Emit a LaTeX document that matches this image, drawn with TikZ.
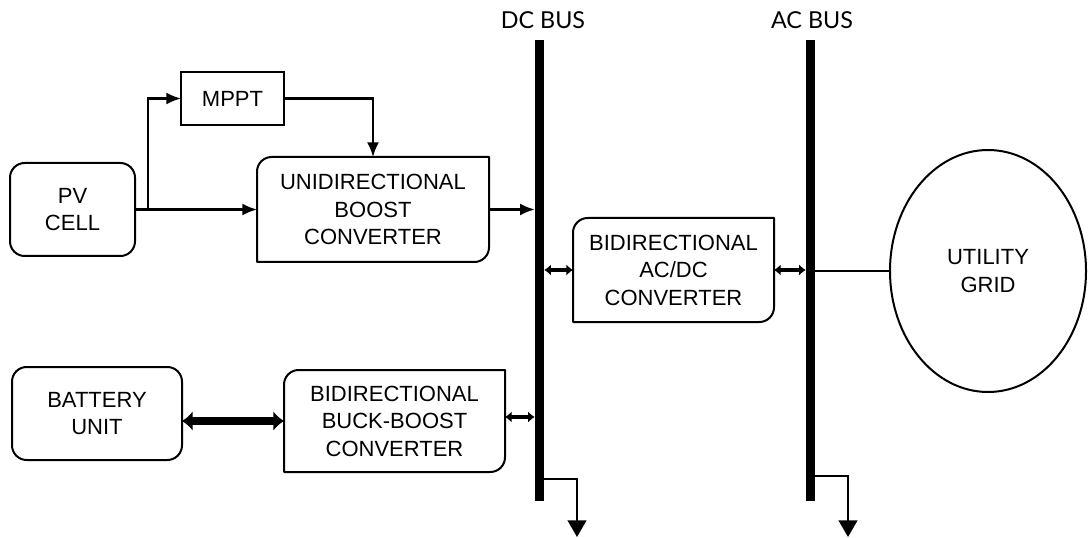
\documentclass[tikz,border=0pt]{standalone}
\usepackage{fontspec}
\setmainfont{Liberation Sans}
\newfontfamily\latofont{Lato}
\usetikzlibrary{arrows.meta,shapes.geometric,calc}
\newcommand\halfroundbox[1]{\draw[boxline] (#1.south west) -- ([yshift=-11pt]#1.north west) arc[start angle=180,end angle=90,radius=11pt] -- (#1.north east) -- ([yshift=11pt]#1.south east) arc[start angle=0,end angle=-90,radius=11pt] -- cycle;}
\begin{document}
\begin{tikzpicture}[x=0.75pt,y=0.75pt,
  txt/.style={rectangle,inner sep=0pt,outer sep=0pt,align=center,font=\fontsize{16.5}{20.6}\selectfont},
  rbox/.style={txt,draw,line width=1.5pt,rounded corners=11pt},
  sbox/.style={txt,draw,line width=1.5pt},
  boxline/.style={line width=1.5pt,line join=round},
  conn/.style={line width=1.6pt},
  arr/.style={conn,-{Latex[length=11pt,width=9pt]}},
  darr/.style={line width=3pt,{Latex[length=5pt,width=8.5pt]}-{Latex[length=5pt,width=8.5pt]}},
  thickarr/.style={line width=5.5pt,{Latex[length=8pt,width=15pt]}-{Latex[length=8pt,width=15pt]}},
  taparr/.style={conn,-{Triangle[length=12.5pt,width=14pt]}},
  bus/.style={rectangle,fill=black,inner sep=0pt,outer sep=0pt,minimum width=7.2pt,minimum height=345.75pt},
  buslabel/.style={font=\latofont\fontsize{17.5}{20}\selectfont,inner sep=0pt}]
\useasboundingbox (0,0) rectangle (1088,-538);

% buses
\node[bus] (dcbus) at (539.5,-270.5) {};
\node[bus] (acbus) at (810.5,-270.5) {};
\node[buslabel] (dclab) at (543,-20) {DC BUS};
\node[buslabel] (aclab) at (812,-20) {AC BUS};

% boxes
\node[rbox,minimum width=93.75pt,minimum height=69.75pt] (pv) at (72.5,-209.5) {PV\\CELL};
\node[sbox,minimum width=77.25pt,minimum height=39.75pt] (mppt) at (232.5,-98.5) {MPPT};
\node[txt,minimum width=174pt,minimum height=78.75pt] (uni) at (373,-209.5) {UNIDIRECTIONAL\\BOOST\\CONVERTER};
\halfroundbox{uni}
\node[txt,minimum width=150.75pt,minimum height=78pt] (acdc) at (673.5,-270) {BIDIRECTIONAL\\AC/DC\\CONVERTER};
\halfroundbox{acdc}
\node[rbox,minimum width=127.5pt,minimum height=69.75pt] (bat) at (97,-413.5) {BATTERY\\UNIT};
\node[txt,minimum width=165.75pt,minimum height=76.5pt] (bb) at (394.5,-421) {BIDIRECTIONAL\\BUCK-BOOST\\CONVERTER};
\halfroundbox{bb}
\node[ellipse,draw,line width=1.5pt,inner sep=0pt,minimum width=147pt,minimum height=181.5pt,align=center,font=\fontsize{16.5}{21.5}\selectfont] (grid) at (988,-271) {UTILITY\\GRID};

% connectors
\coordinate (j) at (148,-209.5);
\draw[arr] (pv.east) -- (uni.west);
\draw[arr] (j) |- (mppt.west);
\draw[arr] (mppt.east) -| (uni.north);
\draw[arr] (uni.east) -- (uni.east -| dcbus.west);
\draw[darr] (acdc.west -| dcbus.east) -- (acdc.west);
\draw[darr] (acdc.east) -- (acdc.east -| acbus.west);
\draw[conn] (acbus.east |- grid.west) -- (grid.west);
\draw[thickarr] (bb.west -| bat.east) -- (bb.west);
\draw[darr] ([yshift=3pt]bb.east) -- ([yshift=3pt]bb.east -| dcbus.west);

% load taps
\coordinate (dctap) at (577,-479);
\coordinate (dcend) at (577,-537);
\coordinate (actap) at (848,-476);
\coordinate (acend) at (848,-537);
\draw[taparr] (dcbus.east |- dctap) -- (dctap) -- (dcend);
\draw[taparr] (acbus.east |- actap) -- (actap) -- (acend);
\end{tikzpicture}
\end{document}
